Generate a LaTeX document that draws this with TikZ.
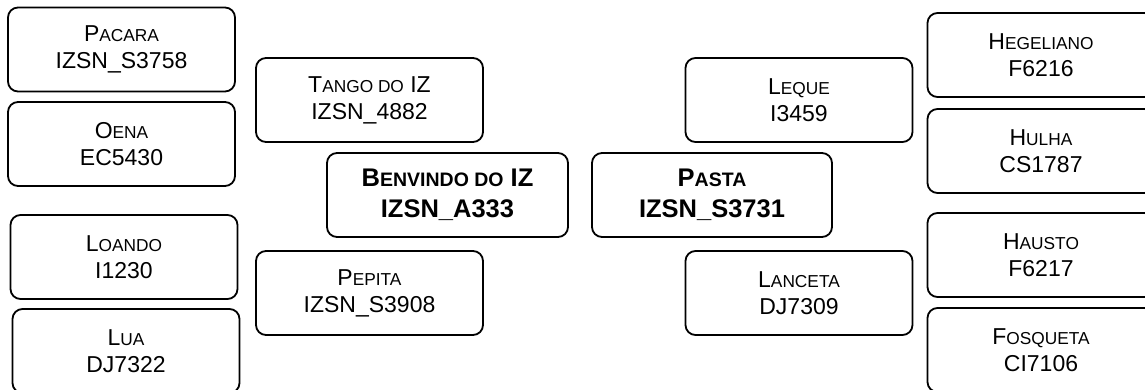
\documentclass[tikz,border=0pt]{standalone}
\usepackage{fontspec}
\setmainfont{Liberation Sans}
\usepackage{tikz}
\usepackage{xcolor}

\newcommand{\smc}[1]{{\fontsize{17.3}{17}\selectfont #1}}
\newcommand{\bsmc}[1]{{\fontsize{19.5}{19}\selectfont #1}}

\begin{document}
\begin{tikzpicture}[x=1pt, y=-1pt,
  leaf/.style={draw=black, line width=1.8pt, rounded corners=10pt, minimum width=227pt,
    minimum height=84pt, inner sep=0pt, align=center, font=\fontsize{23}{27}\selectfont},
  root/.style={leaf, minimum width=241pt, font=\fontsize{25.5}{31}\selectfont\bfseries}]
\clip (0,0) rectangle (1145,390);
\node[leaf] (pacara) at (121.5,49.5) {P\smc{ACARA}\\IZSN\_S3758};
\node[leaf] (oena) at (121.5,144) {O\smc{ENA}\\EC5430};
\node[leaf] (loando) at (124,257) {L\smc{OANDO}\\I1230};
\node[leaf] (lua) at (126,351) {L\smc{UA}\\DJ7322};
\node[leaf] (tango) at (369.5,100) {T\smc{ANGO DO} IZ\\IZSN\_4882};
\node[root] (benvindo) at (447.5,195) {B\bsmc{ENVINDO DO} IZ\\IZSN\_A333};
\node[leaf] (pepita) at (369.5,293) {P\smc{EPITA}\\IZSN\_S3908};
\node[leaf] (leque) at (799,100) {L\smc{EQUE}\\I3459};
\node[root, minimum width=240pt] (pasta) at (712,195) {P\bsmc{ASTA}\\IZSN\_S3731};
\node[leaf] (lanceta) at (799,293) {L\smc{ANCETA}\\DJ7309};
\node[leaf] (hegeliano) at (1041,55) {H\smc{EGELIANO}\\F6216};
\node[leaf] (hulha) at (1041,151) {H\smc{ULHA}\\CS1787};
\node[leaf] (hausto) at (1041,255) {H\smc{AUSTO}\\F6217};
\node[leaf] (fosqueta) at (1041,350) {F\smc{OSQUETA}\\CI7106};
\end{tikzpicture}
\end{document}
